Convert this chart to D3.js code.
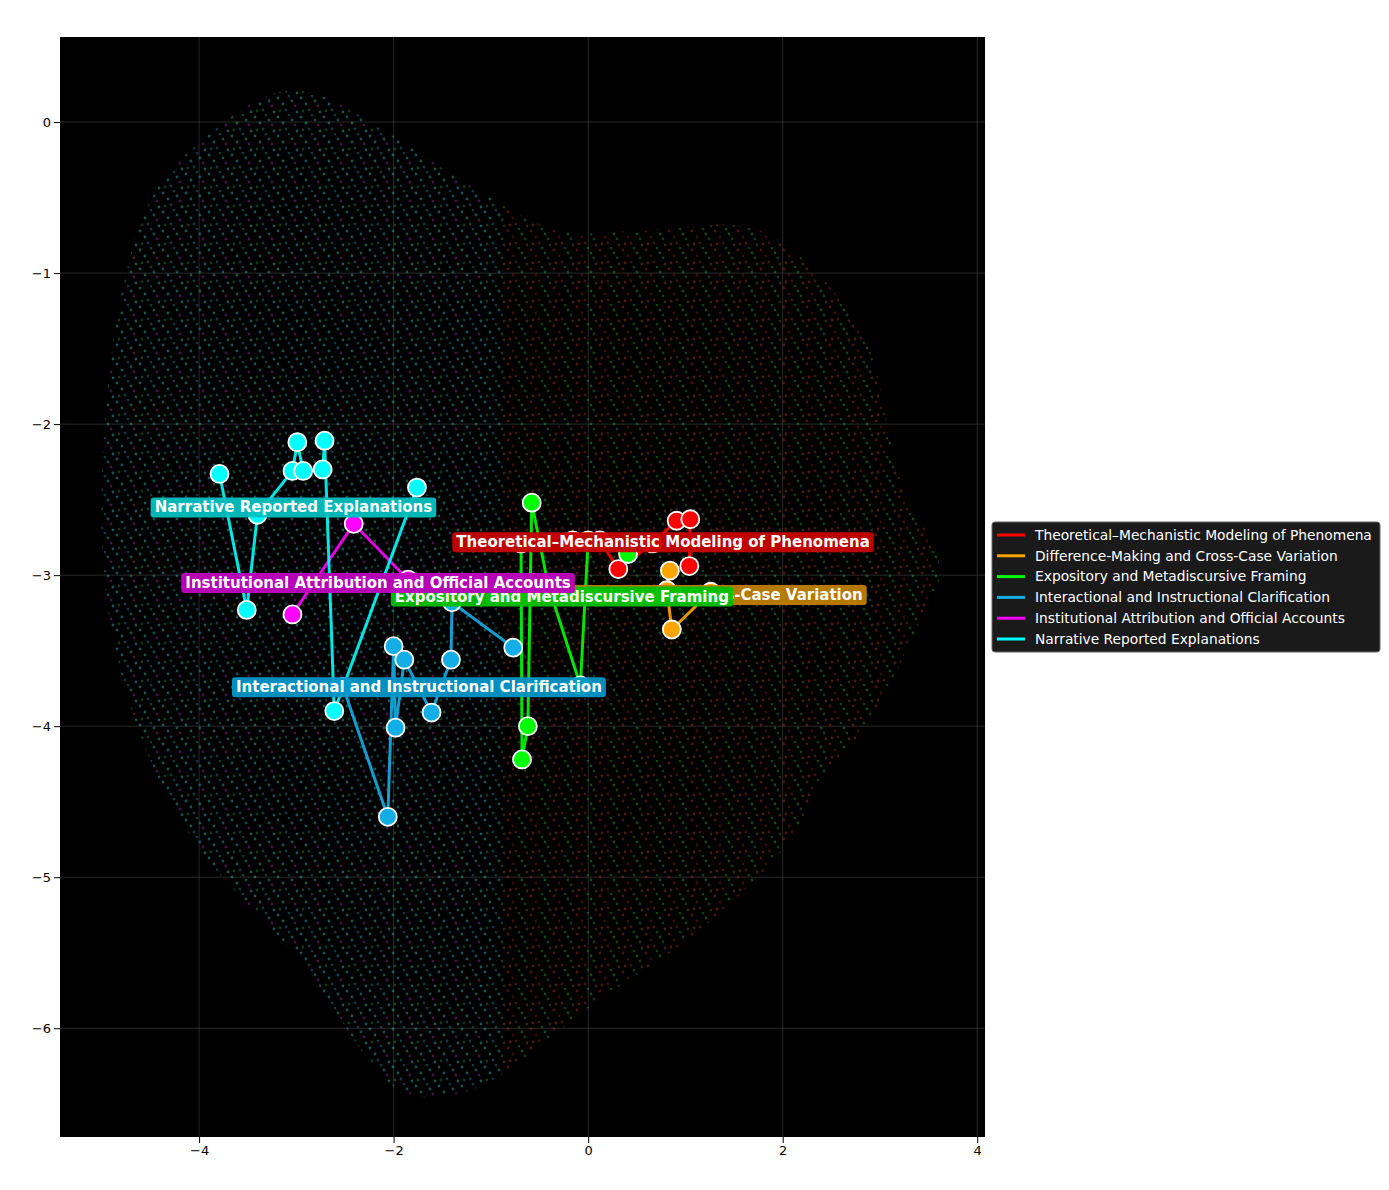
<!DOCTYPE html>
<html><head><meta charset="utf-8">
<script src="https://cdn.jsdelivr.net/npm/d3@7"></script>
<style>body{margin:0;background:#fff;font-family:"DejaVu Sans",sans-serif}</style>
</head><body><svg id="chart" width="1389" height="1190"></svg>
<script>
// category names and colours
const names = ["Theoretical–Mechanistic Modeling of Phenomena", "Difference-Making and Cross-Case Variation",
  "Expository and Metadiscursive Framing", "Interactional and Instructional Clarification",
  "Institutional Attribution and Official Accounts", "Narrative Reported Explanations"];
const lineColors = ["#ff0000", "#ffa500", "#00ff00", "#14aee6", "#ff00ff", "#00ffff"];
const labelColors = ["#c80000", "#c08000", "#00c000", "#0096c8", "#c000c0", "#00c0c0"];

// path nodes per category [x, y]
const redPath = [[-0.16,-2.77],[0.12,-2.77],[0.31,-2.96],[0.66,-2.79],[0.91,-2.64],[1.05,-2.63],[1.04,-2.94]];
const orangePath = [[0.84,-2.97],[0.81,-3.10],[0.86,-3.36],[1.26,-3.11]];
const greenPath = [[-0.69,-2.79],[-0.68,-4.22],[-0.62,-4.00],[-0.58,-2.52],[-0.41,-3.07],[-0.08,-3.73],[0.0,-2.77],[0.41,-2.86]];
const bluePath = [[-2.52,-3.74],[-2.06,-4.60],[-2.00,-3.47],[-1.98,-4.01],[-1.89,-3.56],[-1.61,-3.91],[-1.41,-3.56],[-1.40,-3.18],[-0.77,-3.48]];
const magentaPath = [[-3.04,-3.26],[-2.41,-2.66],[-1.85,-3.03]];
const cyanPath = [[-3.79,-2.33],[-3.51,-3.23],[-3.40,-2.60],[-3.04,-2.31],[-2.99,-2.12],[-2.93,-2.31],[-2.73,-2.30],[-2.71,-2.11],[-2.61,-3.90],[-1.76,-2.42]];
const paths = [redPath, orangePath, greenPath, bluePath, magentaPath, cyanPath];
// label anchor (centre) per category
const labelPos = [[0.77,-2.78],[0.91,-3.13],[-0.27,-3.14],[-1.74,-3.74],[-2.16,-3.05],[-3.03,-2.55]];

// outline of the background point cloud
const cloud = [[-4.09,-0.19],[-3.06,0.21],[-1.93,-0.12],[-1.32,-0.38],[-0.29,-0.72],[0.53,-0.72],[1.77,-0.72],
  [2.80,-1.38],[3.21,-2.37],[3.62,-2.97],[3.41,-3.30],[2.90,-3.96],[2.39,-4.36],[2.08,-4.75],[1.15,-5.35],
  [0.12,-5.81],[-1.21,-6.41],[-1.93,-6.41],[-2.96,-5.55],[-3.99,-4.82],[-4.50,-4.23],[-4.92,-3.30],
  [-5.00,-2.37],[-4.81,-1.18],[-4.50,-0.52]];

const xTicks = [-4, -2, 0, 2, 4];
const yTicks = [0, -1, -2, -3, -4, -5, -6];

const svg = d3.select("#chart");
const m = {l: 60, t: 37, r: 985, b: 1137};
const x = d3.scaleLinear().domain([-5.43, 4.08]).range([m.l, m.r]);
const y = d3.scaleLinear().domain([0.563, -6.72]).range([m.t, m.b]);

const defs = svg.append("defs");
function dotPattern(id, cols) {
  const p = defs.append("pattern").attr("id", id).attr("width", 23).attr("height", 19)
    .attr("patternUnits", "userSpaceOnUse");
  const spots = [[2,3],[13,1],[7,9],[19,11],[4,16],[16,6],[10,15],[21,17]];
  spots.forEach((s, i) => p.append("circle").attr("cx", s[0]).attr("cy", s[1]).attr("r", 1.4)
    .attr("fill", cols[i % cols.length]).attr("opacity", 0.4));
}
dotPattern("leftDots", ["#3fd0d0", "#2090a0", "#3fd0d0", "#b030b0", "#309030", "#3fc0c0", "#2a8aa0", "#40d0d0"]);
dotPattern("rightDots", ["#c03030", "#30a030", "#902020", "#309050", "#c04020", "#40b040", "#a03030", "#806030"]);
defs.append("clipPath").attr("id", "cloudClip").append("path")
  .attr("d", d3.line().x(d => x(d[0])).y(d => y(d[1])).curve(d3.curveCatmullRomClosed)(cloud));
defs.append("clipPath").attr("id", "plotClip").append("rect")
  .attr("x", m.l).attr("y", m.t).attr("width", m.r - m.l).attr("height", m.b - m.t);

svg.append("rect").attr("x", m.l).attr("y", m.t).attr("width", m.r - m.l).attr("height", m.b - m.t).attr("fill", "#000");

// grid
svg.append("g").selectAll("line").data(xTicks).join("line")
  .attr("x1", d => x(d)).attr("x2", d => x(d)).attr("y1", m.t).attr("y2", m.b)
  .attr("stroke", "#444").attr("stroke-width", 0.6);
svg.append("g").selectAll("line").data(yTicks).join("line")
  .attr("y1", d => y(d)).attr("y2", d => y(d)).attr("x1", m.l).attr("x2", m.r)
  .attr("stroke", "#444").attr("stroke-width", 0.6);

// cloud
const cg = svg.append("g").attr("clip-path", "url(#cloudClip)");
cg.append("rect").attr("x", m.l).attr("y", m.t).attr("width", x(-0.9) - m.l).attr("height", m.b - m.t).attr("fill", "url(#leftDots)");
cg.append("rect").attr("x", x(-0.9)).attr("y", m.t).attr("width", m.r - x(-0.9)).attr("height", m.b - m.t).attr("fill", "url(#rightDots)");

// axes
const ax = svg.append("g").attr("transform", `translate(0,${m.b})`).call(d3.axisBottom(x).tickValues(xTicks).tickFormat(d => d < 0 ? "−" + (-d) : d));
const ay = svg.append("g").attr("transform", `translate(${m.l},0)`).call(d3.axisLeft(y).tickValues(yTicks).tickFormat(d => d < 0 ? "−" + (-d) : d));
[ax, ay].forEach(a => { a.select(".domain").remove(); a.selectAll("text").attr("font-size", 13).attr("font-family", "DejaVu Sans"); });

// paths, nodes, labels
const pg = svg.append("g").attr("clip-path", "url(#plotClip)");
const line = d3.line().x(d => x(d[0])).y(d => y(d[1]));
paths.forEach((pts, i) => {
  const g = pg.append("g");
  g.append("path").attr("d", line(pts)).attr("fill", "none").attr("stroke", lineColors[i]).attr("stroke-width", 3).attr("opacity", 0.9);
  g.selectAll("circle").data(pts).join("circle").attr("cx", d => x(d[0])).attr("cy", d => y(d[1])).attr("r", 9)
    .attr("fill", lineColors[i]).attr("stroke", "#fff").attr("stroke-width", 1.8);
});
paths.forEach((pts, i) => {
  const g = pg.append("g");
  const t = g.append("text").attr("x", x(labelPos[i][0])).attr("y", y(labelPos[i][1])).attr("dy", "0.35em")
    .attr("text-anchor", "middle").attr("fill", "#fff").attr("font-weight", "bold").attr("font-size", 15).text(names[i]);
  const bb = t.node().getBBox();
  g.insert("rect", "text").attr("x", bb.x - 4).attr("y", bb.y - 1).attr("width", bb.width + 8).attr("height", bb.height + 2)
    .attr("rx", 3).attr("fill", labelColors[i]).attr("opacity", 0.95);
});

// legend
const lg = svg.append("g").attr("transform", "translate(992,522)");
lg.append("rect").attr("width", 388).attr("height", 130).attr("rx", 3).attr("fill", "#1a1a1a").attr("stroke", "#666");
names.forEach((n, i) => {
  const yy = 13 + i * 20.8;
  lg.append("line").attr("x1", 5).attr("x2", 33).attr("y1", yy).attr("y2", yy).attr("stroke", lineColors[i]).attr("stroke-width", 3);
  lg.append("text").attr("x", 43).attr("y", yy).attr("dy", "0.35em").attr("fill", "#fff").attr("font-size", 13.8).text(n);
});
</script></body></html>
